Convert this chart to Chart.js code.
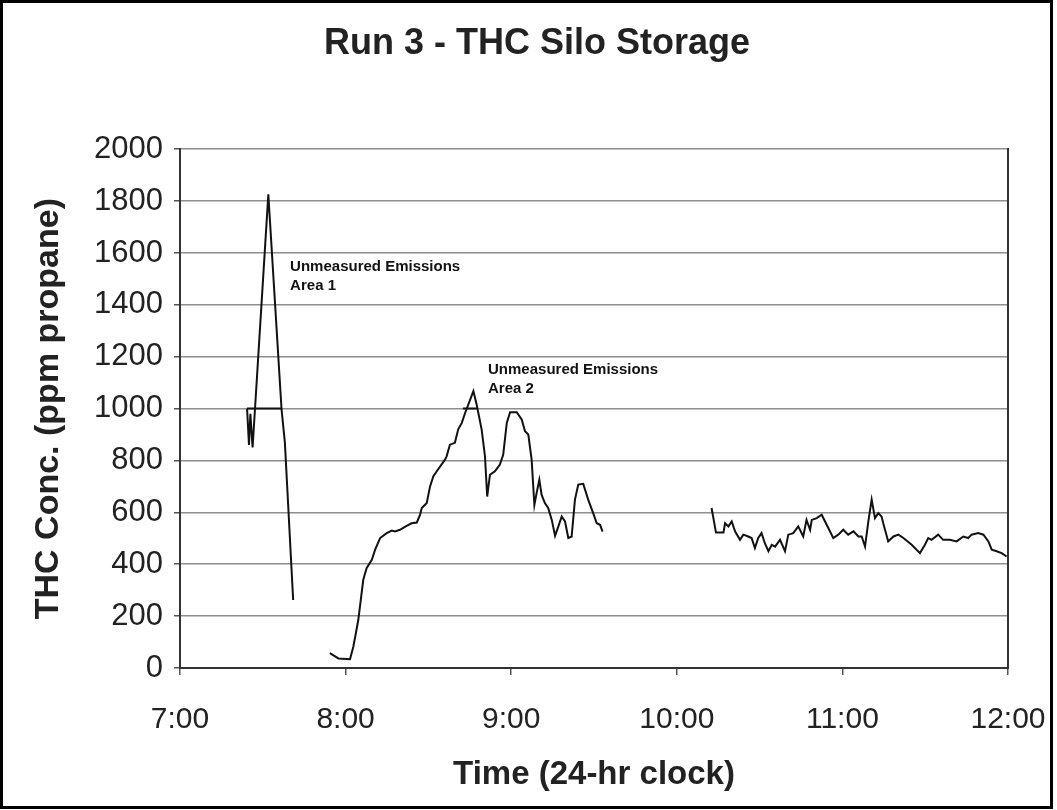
<!DOCTYPE html>
<html>
<head>
<meta charset="utf-8">
<title>Run 3 - THC Silo Storage</title>
<script src="https://cdn.jsdelivr.net/npm/chart.js@4.4.1/dist/chart.umd.min.js"></script>
<style>
  html, body { margin: 0; padding: 0; background: #fff; }
  canvas { display: block; }
</style>
</head>
<body>
<canvas id="siloChart" width="1057" height="810"></canvas>
<script>
// readings: clock time (24-hr) and THC in ppm propane, one pair of arrays per logged stretch
const run1Times = ['7:24:18', '7:25:00', '7:25:30', '7:26:18', '7:32:00', '7:36:48', '7:38:00', '7:41:00'];
const run1Ppm = [1000, 860, 980, 850, 1826, 996, 869, 262];

const run2Times = ['7:54:18', '7:57:24', '8:01:36', '8:02:48', '8:04:36', '8:06:24', '8:07:36', '8:09:30',
    '8:10:42', '8:12:30', '8:14:54', '8:16:42', '8:17:54', '8:19:42', '8:22:06', '8:23:54', '8:25:48',
    '8:27:00', '8:27:36', '8:29:24', '8:30:36', '8:31:48', '8:33:36', '8:36:00', '8:36:36', '8:37:48',
    '8:39:36', '8:40:48', '8:42:06', '8:43:18', '8:46:18', '8:47:30', '8:49:18', '8:50:30', '8:51:18',
    '8:52:18', '8:54:06', '8:55:54', '8:57:06', '8:58:24', '8:59:36', '9:02:00', '9:03:48', '9:05:00',
    '9:06:12', '9:07:24', '9:08:24', '9:09:12', '9:10:12', '9:11:00', '9:12:12', '9:13:24', '9:14:42',
    '9:15:54', '9:17:06', '9:18:18', '9:19:30', '9:20:42', '9:21:54', '9:23:06', '9:24:18', '9:26:06',
    '9:27:54', '9:29:42', '9:31:00', '9:32:12', '9:33:06'];
const run2Ppm = [57, 37, 34, 82, 185, 340, 385, 417,
    456, 501, 520, 530, 526, 533, 548, 558, 561,
    591, 617, 636, 700, 739, 767, 803, 816, 861,
    868, 920, 945, 983, 1067, 1015, 919, 816, 661,
    745, 758, 784, 822, 945, 986, 986, 958, 913,
    900, 803, 629, 674, 726, 668, 636, 617, 571,
    510, 546, 584, 565, 501, 507, 649, 707, 710,
    649, 597, 558, 552, 526];

const run3Times = ['10:12:36', '10:14:12', '10:16:54', '10:17:30', '10:18:42', '10:19:54', '10:21:06',
    '10:22:54', '10:24:06', '10:25:54', '10:27:06', '10:28:18', '10:29:30', '10:30:42', '10:31:54',
    '10:33:12', '10:34:24', '10:35:36', '10:37:24', '10:39:12', '10:40:24', '10:42:12', '10:44:00',
    '10:45:48', '10:47:00', '10:48:18', '10:48:54', '10:50:42', '10:52:30', '10:54:18', '10:56:42',
    '10:58:30', '11:00:18', '11:02:06', '11:04:00', '11:05:48', '11:07:00', '11:08:12', '11:09:24',
    '11:10:36', '11:11:48', '11:13:00', '11:14:12', '11:14:48', '11:16:36', '11:18:30', '11:20:18',
    '11:22:06', '11:25:06', '11:28:06', '11:29:54', '11:31:06', '11:32:18', '11:34:42', '11:36:30',
    '11:38:54', '11:41:24', '11:43:48', '11:45:36', '11:46:48', '11:49:12', '11:51:06', '11:52:54',
    '11:54:06', '11:55:54', '11:57:42', '11:59:30'];
const run3Ppm = [617, 522, 522, 558, 546, 565, 527,
    494, 514, 507, 501, 462, 501, 520, 481,
    450, 475, 468, 494, 450, 514, 520, 546,
    507, 571, 533, 571, 578, 591, 552, 501,
    514, 533, 514, 527, 507, 507, 468, 565,
    649, 578, 597, 584, 558, 488, 507, 514,
    501, 475, 443, 475, 501, 494, 514, 494,
    494, 488, 507, 501, 514, 520, 514, 488,
    456, 450, 443, 430];

// flat lines marking the unmeasured emission areas
const unmeasuredStart = ['7:24:18', '8:42:30'];
const unmeasuredEnd = ['7:37:00', '8:47:36'];
const unmeasuredPpm = [1000, 1000];

// text notes, anchored at a time / ppm point
const noteLines = [['Unmeasured Emissions', 'Area 1'], ['Unmeasured Emissions', 'Area 2']];
const noteTimes = ['7:39:54', '8:51:36'];
const notePpm = [1545, 1148];

const hourLabels = ['7:00', '8:00', '9:00', '10:00', '11:00', '12:00'];

function toHours(clock) {
    const [h, m, s] = clock.split(':').map(Number);
    return h + m / 60 + (s || 0) / 3600;
}

function toPoints(times, values) {
    return times.map((t, i) => ({ x: toHours(t), y: values[i] }));
}

// null points break the line between logging stretches
const traceData = [
    ...toPoints(run1Times, run1Ppm),
    { x: 7.8, y: null },
    ...toPoints(run2Times, run2Ppm),
    { x: 9.8, y: null },
    ...toPoints(run3Times, run3Ppm)
];

const unmeasuredData = [];
unmeasuredStart.forEach((t, i) => {
    if (i > 0) unmeasuredData.push({ x: toHours(t) - 0.1, y: null });
    unmeasuredData.push({ x: toHours(t), y: unmeasuredPpm[i] });
    unmeasuredData.push({ x: toHours(unmeasuredEnd[i]), y: unmeasuredPpm[i] });
});

const noteLabels = {
    id: 'noteLabels',
    afterDatasetsDraw(chart) {
        const { ctx, scales: { x, y } } = chart;
        ctx.save();
        ctx.font = 'bold 15px "Liberation Sans", Arial, sans-serif';
        ctx.fillStyle = '#111';
        ctx.textBaseline = 'middle';
        noteLines.forEach((lines, i) => {
            const px = x.getPixelForValue(toHours(noteTimes[i]));
            const py = y.getPixelForValue(notePpm[i]);
            lines.forEach((line, j) => ctx.fillText(line, px, py + j * 19));
        });
        ctx.restore();
    }
};

const pageFrame = {
    id: 'pageFrame',
    beforeDraw(chart) {
        const ctx = chart.ctx;
        ctx.save();
        ctx.fillStyle = '#fff';
        ctx.fillRect(0, 0, chart.width, chart.height);
        ctx.restore();
    },
    afterDraw(chart) {
        const ctx = chart.ctx;
        ctx.save();
        ctx.fillStyle = '#fff';
        ctx.fillRect(1053, 0, chart.width - 1053, chart.height);
        ctx.lineWidth = 3;
        ctx.strokeStyle = '#000';
        ctx.strokeRect(1.5, 1.5, 1050, 806);
        ctx.restore();
    }
};

Chart.defaults.font.family = '"Liberation Sans", Arial, Helvetica, sans-serif';
Chart.defaults.color = '#222';

new Chart(document.getElementById('siloChart'), {
    type: 'line',
    data: {
        datasets: [{
            label: 'THC',
            data: traceData,
            borderColor: '#111',
            borderWidth: 2,
            pointRadius: 0,
            tension: 0,
            spanGaps: false
        }, {
            label: 'Unmeasured',
            data: unmeasuredData,
            borderColor: '#111',
            borderWidth: 2,
            pointRadius: 0,
            spanGaps: false
        }]
    },
    options: {
        responsive: false,
        animation: false,
        devicePixelRatio: 1,
        layout: { padding: { left: 20, right: 3, top: 0, bottom: 3 } },
        plugins: {
            legend: { display: false },
            tooltip: { enabled: false },
            title: {
                display: true,
                text: 'Run 3 - THC Silo Storage',
                color: '#222',
                font: { size: 36, weight: 'bold' },
                padding: { top: 22, bottom: 84 }
            }
        },
        scales: {
            x: {
                type: 'linear',
                position: 'bottom',
                min: 7,
                max: 12,
                ticks: {
                    stepSize: 1,
                    padding: 6,
                    maxRotation: 0,
                    // tall line box pushes the hour labels down without widening the side padding
                    font: { size: 30, lineHeight: 2.6 },
                    callback: v => hourLabels[Math.round(v - 7)]
                },
                grid: { drawOnChartArea: false, drawTicks: true, tickLength: 7, tickColor: '#555', lineWidth: 1.5 },
                border: { color: '#333', width: 2 },
                title: {
                    display: true,
                    text: 'Time (24-hr clock)',
                    font: { size: 33, weight: 'bold' },
                    padding: { top: 0, bottom: 12 }
                },
                afterFit(scale) { scale.height = 139; }
            },
            y: {
                position: 'left',
                min: 0,
                max: 2000,
                ticks: { stepSize: 200, padding: 11, font: { size: 31 }, callback: v => String(v) },
                grid: { color: '#8e8e8e', lineWidth: 1.5, tickLength: 6, tickColor: '#555' },
                border: { color: '#333', width: 2 },
                title: {
                    display: true,
                    text: 'THC Conc. (ppm propane)',
                    font: { size: 34, weight: 'bold' },
                    padding: { top: 8, bottom: 0 }
                },
                afterFit(scale) { scale.width = 160; }
            },
            yRight: {
                type: 'linear',
                position: 'right',
                display: true,
                min: 0,
                max: 2000,
                ticks: { display: false },
                grid: { display: false },
                border: { display: true, color: '#333', width: 2 },
                afterFit(scale) { scale.width = 46; }
            }
        }
    },
    plugins: [pageFrame, noteLabels]
});
</script>
</body>
</html>
